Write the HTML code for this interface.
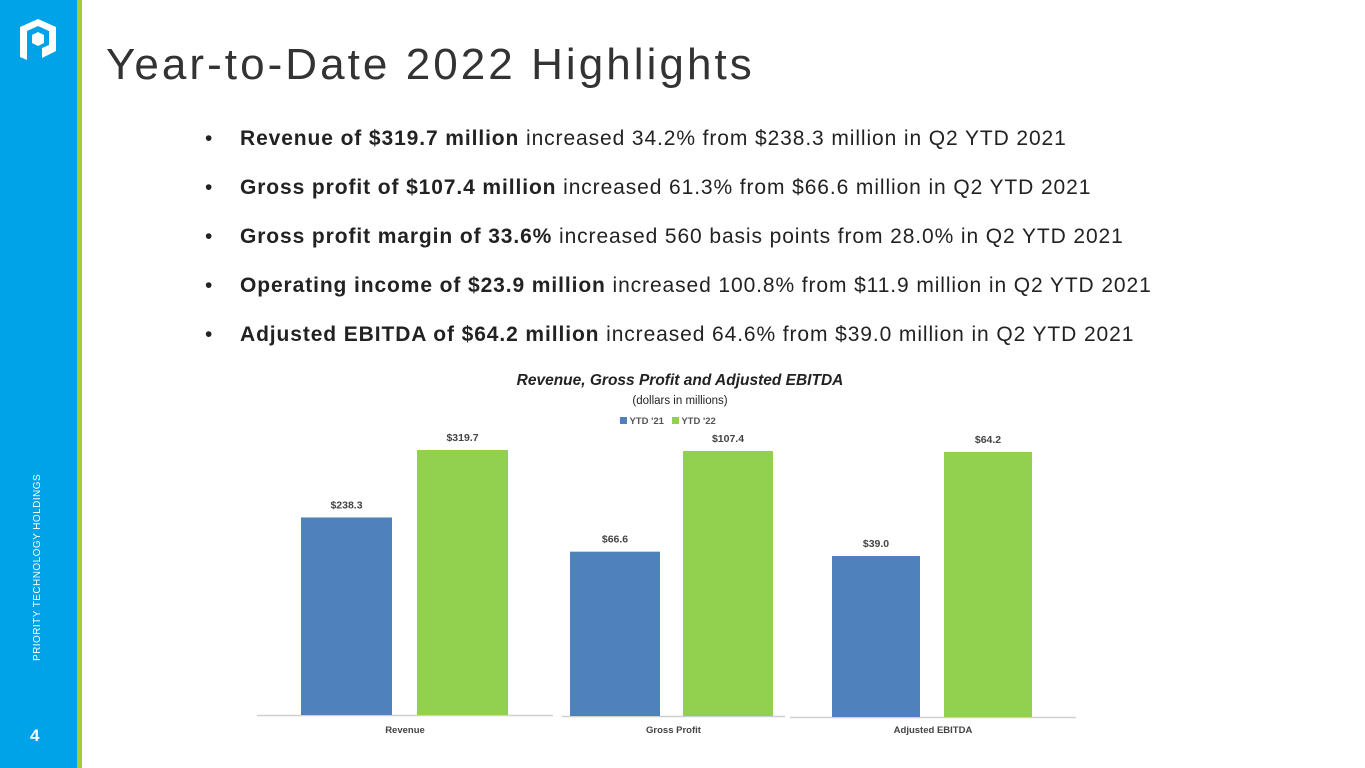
<!DOCTYPE html>
<html><head><meta charset="utf-8"><style>
body{margin:0;width:1365px;height:768px;overflow:hidden;background:#fff;font-family:"Liberation Sans",sans-serif;position:relative}
.abs{position:absolute}
#side{left:0;top:0;width:77px;height:768px;background:#00a2e8}
#strip{left:77px;top:0;width:5px;height:768px;background:#a4cc3a}
h1{position:absolute;left:106px;top:40px;margin:0;font-weight:normal;font-size:44px;letter-spacing:3.05px;color:#333}
ul{position:absolute;left:205px;top:121px;margin:0;padding:0;list-style:none;font-size:21px;letter-spacing:0.9px;color:#222}
li{height:49px;line-height:36px;white-space:nowrap}
li:before{content:"•";position:absolute;left:0}
li span{margin-left:35px}
</style></head><body>
<div class="abs" id="side"></div>
<div class="abs" id="strip"></div>
<svg class="abs" style="left:16px;top:18px" width="44" height="46" viewBox="0 0 44 46">
<path d="M4 9 L22 1 L40 9 L40 33 L26 40 L26 30 L33 27 L33 13 L22 8 L11 13 L11 42 L4 39 Z" fill="#fff"/>
<path d="M16 17 L22 14 L28 17 L28 25 L22 28 L16 25 Z" fill="#fff"/>
</svg>
<div class="abs" style="left:32px;top:661px;transform:rotate(-90deg);transform-origin:0 0;font-size:10px;letter-spacing:0.45px;color:#fff;white-space:nowrap">PRIORITY TECHNOLOGY HOLDINGS</div>
<div class="abs" style="left:30px;top:726px;font-size:17px;font-weight:bold;color:#fff">4</div>
<h1>Year-to-Date 2022 Highlights</h1>
<ul>
<li><span><b>Revenue of $319.7 million</b> increased 34.2% from $238.3 million in Q2 YTD 2021</span></li>
<li><span><b>Gross profit of $107.4 million</b> increased 61.3% from $66.6 million in Q2 YTD 2021</span></li>
<li><span><b>Gross profit margin of 33.6%</b> increased 560 basis points from 28.0% in Q2 YTD 2021</span></li>
<li><span><b>Operating income of $23.9 million</b> increased 100.8% from $11.9 million in Q2 YTD 2021</span></li>
<li><span><b>Adjusted EBITDA of $64.2 million</b> increased 64.6% from $39.0 million in Q2 YTD 2021</span></li>
</ul>
<div class="abs" style="left:440px;top:372px;width:480px;text-align:center;font-size:15.5px;font-weight:bold;font-style:italic;color:#222">Revenue, Gross Profit and Adjusted EBITDA</div>
<div class="abs" style="left:560px;top:395px;width:240px;text-align:center;font-size:11.5px;color:#222">(dollars in millions)</div>
<div class="abs" style="left:620px;top:416px;font-size:9.5px;font-weight:bold;color:#555">
<span><span style="display:inline-block;width:7px;height:7px;background:#4f81bd"></span> YTD '21</span>&nbsp;&nbsp;
<span><span style="display:inline-block;width:7px;height:7px;background:#92d050"></span> YTD '22</span></div>
<svg id="chart" class="abs" style="left:0;top:0" width="1365" height="768"></svg>
<script>
const categories=["Revenue","Gross Profit","Adjusted EBITDA"];
const ytd21=[238.3,66.6,39.0];
const ytd22=[319.7,107.4,64.2];
const panels=[{x0:257,x1:553,base:715,b1:301,b2:417,bw:91},{x0:562,x1:785,base:716,b1:570,b2:683,bw:90},{x0:790,x1:1076,base:717,b1:832,b2:944,bw:88}];
const svg=document.getElementById('chart');const NS='http://www.w3.org/2000/svg';
function mk(t,a){const e=document.createElementNS(NS,t);for(const k in a)e.setAttribute(k,a[k]);svg.appendChild(e);return e;}
categories.forEach((c,i)=>{
 const p=panels[i];const mx=Math.max(ytd21[i],ytd22[i]);
 const y=v=>p.base-v/mx*265;
 const ax=mk('line',{x1:p.x0,x2:p.x1,y1:p.base+0.5,y2:p.base+0.5,stroke:'#d0d0d0','stroke-width':1.5});
 
 [[ytd21[i],p.b1,'#4f81bd','ytd21'],[ytd22[i],p.b2,'#92d050','ytd22']].forEach(([v,x,col,s])=>{
  const r=mk('rect',{x:x,y:y(v),width:p.bw,height:p.base-y(v),fill:col});
  
  const t=mk('text',{x:x+p.bw/2,y:y(v)-9,'text-anchor':'middle','font-size':10.5,'font-weight':'bold',fill:'#444','font-family':'Liberation Sans'});
  t.textContent='$'+v.toFixed(1);
 });
 const l=mk('text',{x:(p.x0+p.x1)/2,y:733,'text-anchor':'middle','font-size':9.5,'font-weight':'bold',fill:'#444','font-family':'Liberation Sans'});
 l.textContent=c;
});
</script>
</body></html>
